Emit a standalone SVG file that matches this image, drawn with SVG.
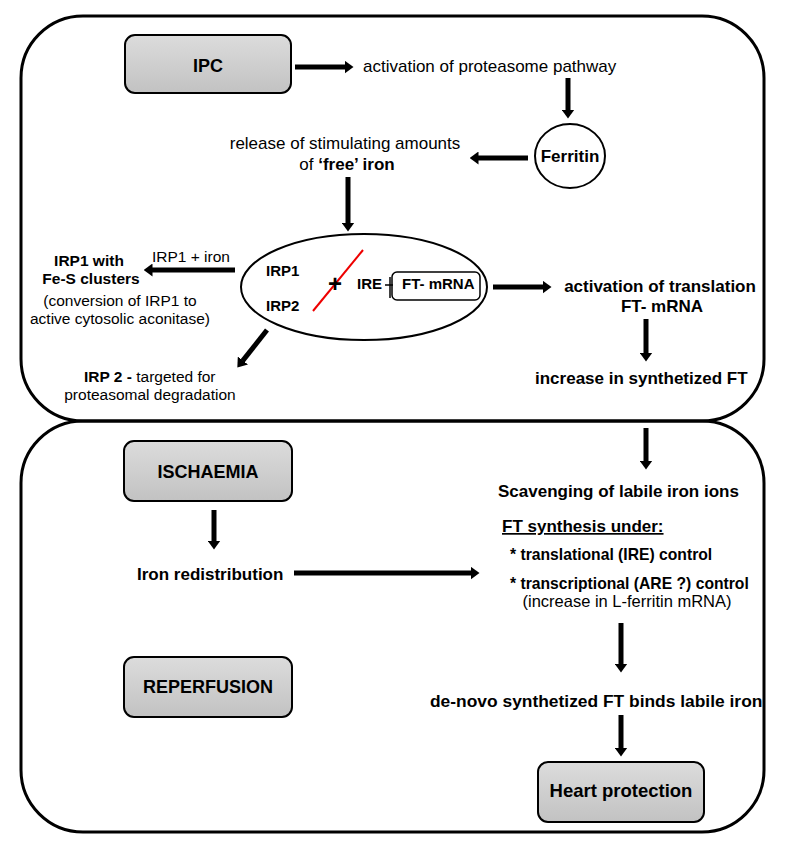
<svg xmlns="http://www.w3.org/2000/svg" width="790" height="851" viewBox="0 0 790 851">
<defs>
<style>
text{font-family:"Liberation Sans",Arial,sans-serif;fill:#000}
.b{font-weight:bold}
.panel{fill:none;stroke:#000;stroke-width:3}
.box{fill:url(#g);stroke:#000;stroke-width:2}
.arr{stroke:#000;stroke-width:5;fill:none;marker-end:url(#ah)}
.t17{font-size:17px}
.t15{font-size:15.5px}
.mid{text-anchor:middle}
</style>
<linearGradient id="g" x1="0" y1="0" x2="0" y2="1">
<stop offset="0" stop-color="#dcdcdc"/>
<stop offset="1" stop-color="#c2c2c2"/>
</linearGradient>
<marker id="ah" viewBox="0 0 9 13" markerWidth="9" markerHeight="13" refX="0.5" refY="6.5" orient="auto" markerUnits="userSpaceOnUse">
<path d="M0,0 L9,6.5 L0,13 z" fill="#000"/>
</marker>
</defs>
<rect width="790" height="851" fill="#fff"/>

<g id="panel-ipc"><rect class="panel" x="21" y="16" width="743" height="405" rx="62" ry="62"/></g>
<g id="panel-ir"><rect class="panel" x="21" y="421" width="743" height="411" rx="62" ry="62"/></g>

<g id="connectors">
<line class="arr" x1="295" y1="67" x2="345" y2="67"/>
<line class="arr" x1="568" y1="78" x2="568" y2="110"/>
<line class="arr" x1="528" y1="158" x2="478" y2="158"/>
<line class="arr" x1="348" y1="177" x2="348" y2="223"/>
<line class="arr" x1="235" y1="270" x2="152" y2="270"/>
<line class="arr" x1="267" y1="330" x2="242.6" y2="360.9"/>
<line class="arr" x1="493" y1="287" x2="543" y2="287"/>
<line class="arr" x1="646" y1="319" x2="646" y2="353"/>
<line class="arr" x1="646" y1="428" x2="646" y2="461"/>
<line class="arr" x1="214" y1="510" x2="214" y2="541"/>
<line class="arr" x1="294" y1="573" x2="471" y2="573"/>
<line class="arr" x1="621" y1="623" x2="621" y2="664"/>
<line class="arr" x1="621" y1="715" x2="621" y2="748"/>
</g>

<g id="ipc">
<rect class="box" x="125" y="35" width="166" height="58" rx="10"/>
<text class="b mid" x="208" y="72" font-size="18">IPC</text>
</g>
<g id="proteasome"><text class="t17" x="363" y="72">activation of proteasome pathway</text></g>
<g id="ferritin">
<ellipse cx="570" cy="156" rx="35" ry="32" fill="#fff" stroke="#000" stroke-width="2"/>
<text class="b mid t17" x="570" y="162">Ferritin</text>
</g>
<g id="free-iron">
<text class="t17 mid" x="345" y="149">release of stimulating amounts</text>
<text class="t17 mid" x="347" y="170">of <tspan class="b">‘free’ iron</tspan></text>
</g>
<g id="complex">
<ellipse cx="364" cy="287" rx="123" ry="53" fill="#fff" stroke="#000" stroke-width="2"/>
<text class="b" x="266" y="276" font-size="15">IRP1</text>
<text class="b" x="266" y="311" font-size="15">IRP2</text>
<line x1="313" y1="311" x2="363" y2="250" stroke="#e00" stroke-width="2"/>
<text class="b mid" x="335" y="292" font-size="24">+</text>
<text class="b" x="357" y="289" font-size="15">IRE</text>
<line x1="385" y1="285" x2="393" y2="285" stroke="#000" stroke-width="1.5"/>
<line x1="390" y1="277" x2="390" y2="298" stroke="#000" stroke-width="1.5"/>
<rect x="392" y="272" width="88" height="28" rx="5" fill="none" stroke="#000" stroke-width="1.5"/>
<text class="b" x="402" y="289" font-size="15">FT- mRNA</text>
</g>
<g id="irp1-iron"><text class="t15" x="152" y="262">IRP1 + iron</text></g>
<g id="irp1-fes">
<text class="b t15 mid" x="89" y="266">IRP1 with</text>
<text class="b t15 mid" x="91" y="284">Fe-S clusters</text>
<text class="t15 mid" x="120" y="306">(conversion of IRP1 to</text>
<text class="t15 mid" x="120" y="324">active cytosolic aconitase)</text>
</g>
<g id="irp2">
<text class="t15" x="84" y="382"><tspan class="b">IRP 2 -</tspan> targeted for</text>
<text class="t15 mid" x="150" y="400">proteasomal degradation</text>
</g>
<g id="translation">
<text class="b t17 mid" x="660" y="292">activation of translation</text>
<text class="b t17 mid" x="662" y="312">FT- mRNA</text>
</g>
<g id="increase"><text class="b t17" x="535" y="384">increase in synthetized FT</text></g>

<g id="ischaemia">
<rect class="box" x="124" y="441" width="168" height="60" rx="10"/>
<text class="b mid" x="208" y="478" font-size="18">ISCHAEMIA</text>
</g>
<g id="redistribution"><text class="b t17" x="137" y="580">Iron redistribution</text></g>
<g id="scavenging">
<text class="b t17" x="498" y="497">Scavenging of labile iron ions</text>
<text class="b t17" x="502" y="532" text-decoration="underline">FT synthesis under:</text>
<text class="b" x="510" y="560" font-size="15.7">* translational (IRE) control</text>
<text class="b" x="510" y="589" font-size="15.7">* transcriptional (ARE ?) control</text>
<text class="mid" x="627" y="607" font-size="16.5">(increase in L-ferritin mRNA)</text>
</g>
<g id="denovo"><text class="b" x="430" y="707" font-size="17.4">de-novo synthetized FT binds labile iron</text></g>
<g id="reperfusion">
<rect class="box" x="124" y="657" width="168" height="60" rx="10"/>
<text class="b mid" x="208" y="693" font-size="18">REPERFUSION</text>
</g>
<g id="heart">
<rect class="box" x="538" y="762" width="166" height="60" rx="10"/>
<text class="b mid" x="621" y="797" font-size="18.5">Heart protection</text>
</g>
</svg>
